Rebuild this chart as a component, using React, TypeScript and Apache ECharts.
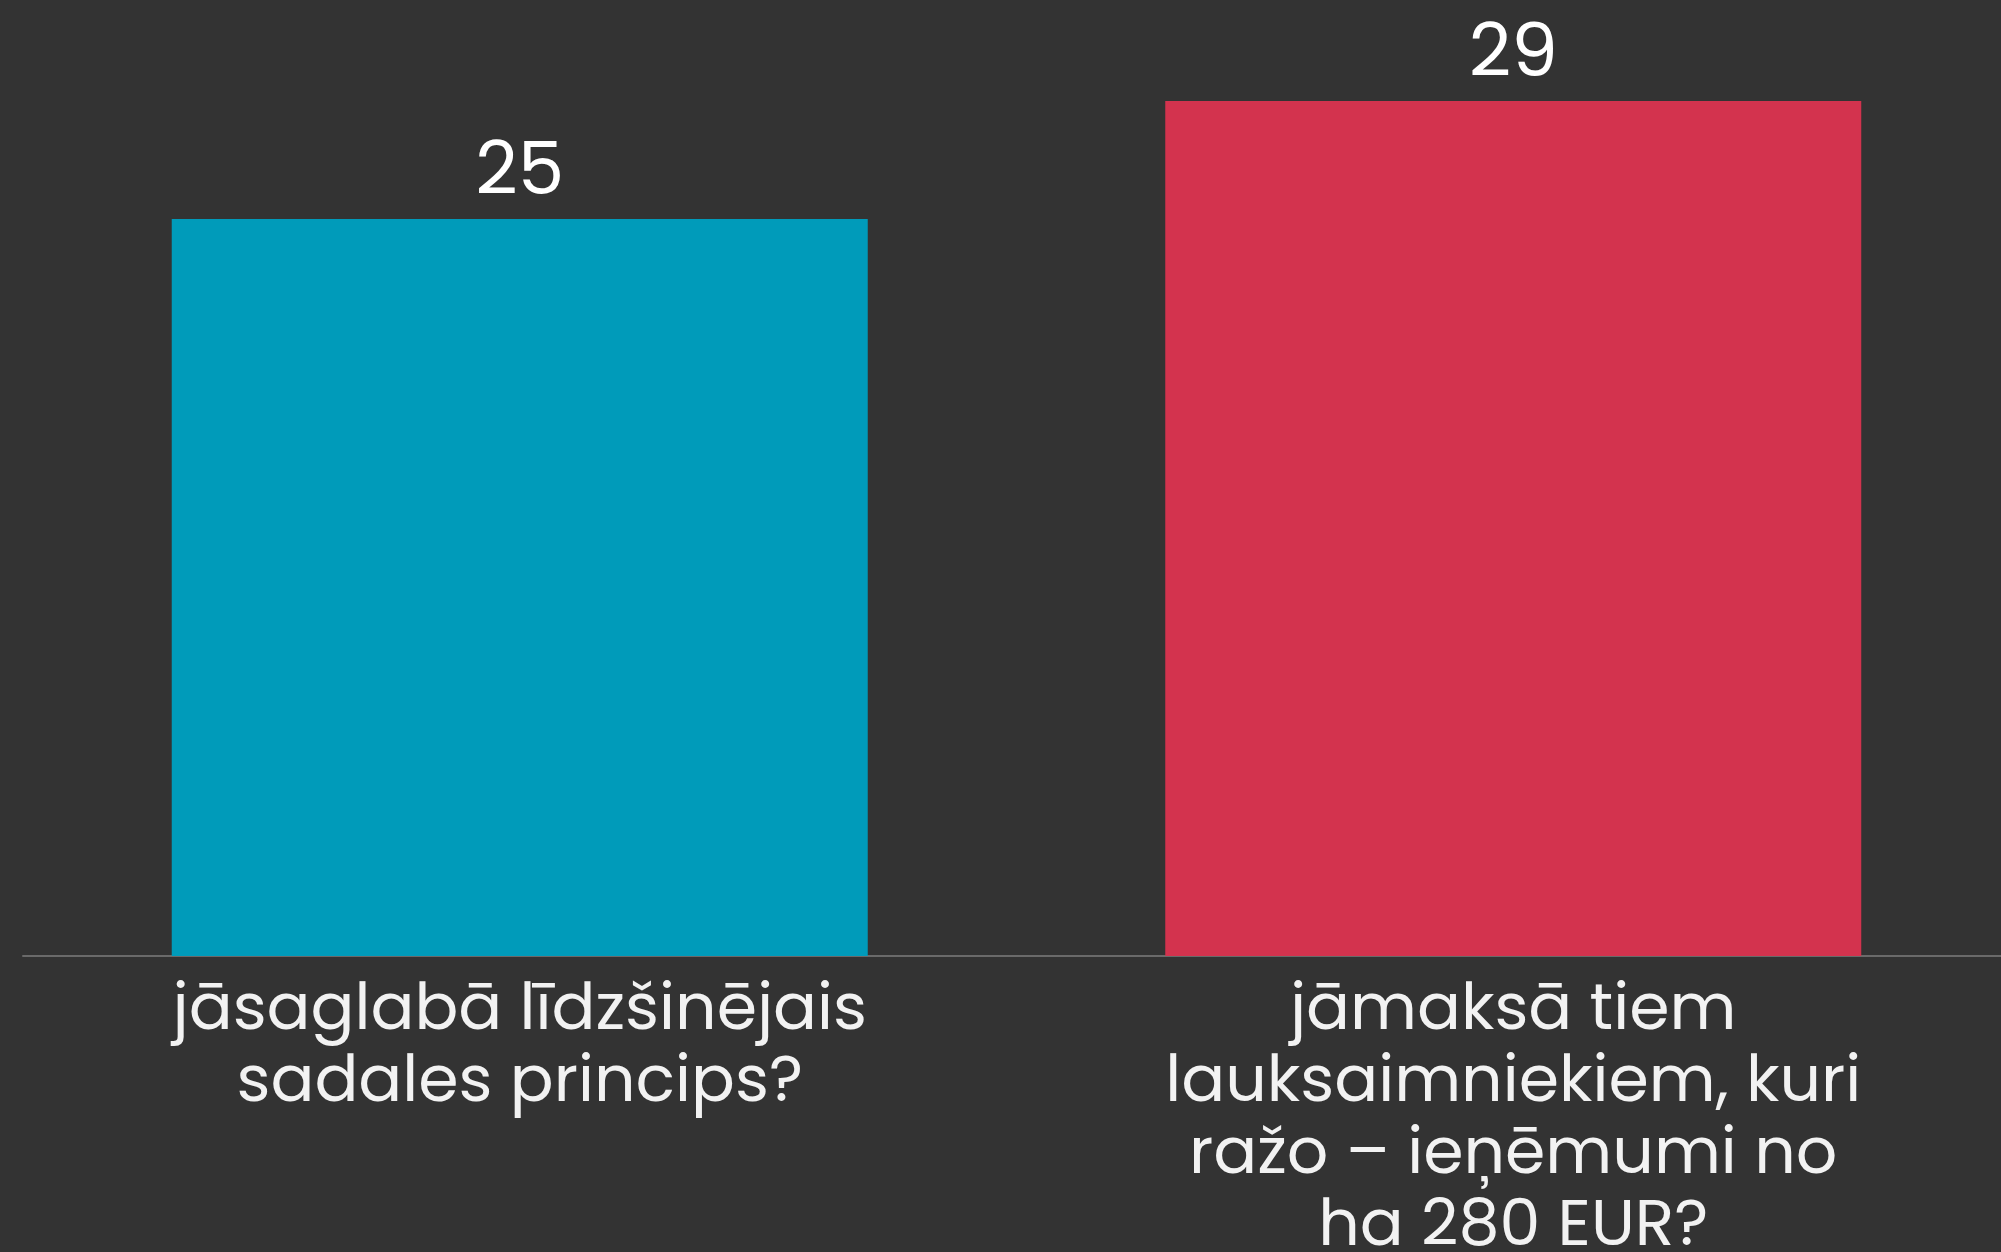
import React, { useEffect, useRef } from "react";
import * as echarts from "echarts";

const categories = [
  "jāsaglabā līdzšinējais\nsadales princips?",
  "jāmaksā tiem\nlauksaimniekiem, kuri\nražo – ieņēmumi no\nha 280 EUR?",
];
const values = [25, 29];
const barColors = ["#009bba", "#d3334e"];

export default function App() {
  const ref = useRef<HTMLDivElement>(null);
  useEffect(() => {
    if (!ref.current) return;
    const chart = echarts.init(ref.current, null, { renderer: "svg" });
    chart.setOption({
      animation: false,
      backgroundColor: "#333333",
      grid: {
        left: 23,
        top: 101,
        bottom: 296,
        width: 1987,
        containLabel: false,
        outerBoundsMode: "none",
      },
      xAxis: {
        type: "category",
        data: categories,
        axisLine: { show: true, lineStyle: { color: "#6a6a6a", width: 2 } },
        axisTick: { show: false },
        axisLabel: {
          color: "#f2f2f2",
          fontFamily: "Poppins, Lato, 'Noto Sans', sans-serif",
          fontSize: 65,
          lineHeight: 72,
          margin: 14,
          interval: 0,
          align: "center",
        },
      },
      yAxis: {
        type: "value",
        min: 0,
        max: 29,
        show: false,
        splitLine: { show: false },
      },
      series: [
        {
          type: "bar",
          barWidth: 696,
          data: values.map((v, i) => ({ value: v, itemStyle: { color: barColors[i] } })),
          label: {
            show: true,
            position: "top",
            distance: 14,
            color: "#ffffff",
            fontFamily: "Poppins, Lato, 'Noto Sans', sans-serif",
            fontSize: 74,
          },
        },
      ],
    });
    return () => chart.dispose();
  }, []);
  return (
    <div
      ref={ref}
      style={{ position: "fixed", left: 0, top: 0, width: 2001, height: 1252 }}
    />
  );
}
